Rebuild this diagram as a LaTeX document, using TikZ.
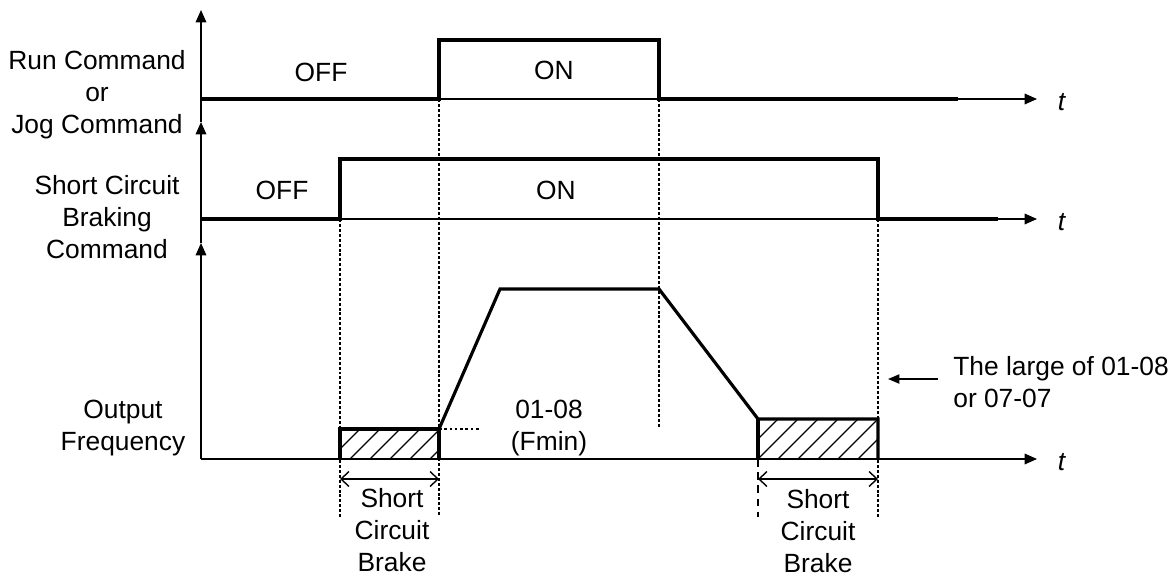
\documentclass[tikz,border=0pt]{standalone}
\usepackage{fontspec}
\setmainfont{Liberation Sans}
\usetikzlibrary{arrows.meta}

\begin{document}
\begin{tikzpicture}[x=0.02cm,y=-0.02cm,
  axis/.style={line width=0.9pt,-{Triangle[length=7pt,width=6pt]}},
  sig/.style={line width=1.8pt,line join=miter},
  guide/.style={line width=0.6pt,dash pattern=on 1.7pt off 1.1pt},
  dim/.style={line width=0.8pt,{Straight Barb[length=4.5pt,width=8.5pt]}-{Straight Barb[length=4.5pt,width=8.5pt]}},
  lbl/.style={font=\fontsize{15}{18.2}\selectfont,align=center,inner sep=0pt}]
  \useasboundingbox (0,0) rectangle (1176,578);
  \draw[axis] (201,459) -- (201,243);
  \draw[axis] (201,243) -- (201,122);
  \draw[axis] (201,122) -- (201,10);
  \draw[axis] (201,99) -- (1037,99);
  \draw[axis] (201,219) -- (1037,219);
  \draw[axis] (201,459) -- (1037,459);
  \draw[sig] (201,99) -- (439,99) -- (439,40) -- (659,40) -- (659,99) -- (958,99);
  \draw[sig] (201,219) -- (340,219) -- (340,159) -- (878,159) -- (878,219) -- (998,219);
  \begin{scope}
    \clip (340,429) rectangle (439,459);
    \foreach \i in {310,330,...,450} \draw[line width=0.7pt] (\i,459) -- ++(30,-30);
  \end{scope}
  \begin{scope}
    \clip (758,419) rectangle (878,459);
    \foreach \i in {718,738,...,890} \draw[line width=0.7pt] (\i,459) -- ++(40,-40);
  \end{scope}
  \draw[sig] (340,459) -- (340,429) -- (439,429) -- (439,459);
  \draw[sig] (439,429) -- (500,289) -- (659,289) -- (758,419) -- (878,419) -- (878,459);
  \draw[sig] (758,419) -- (758,459);
  \draw[line width=0.8pt,dash pattern=on 1.5pt off 1.5pt] (439,429) -- (480,429);
  \draw[guide] (340,219) -- (340,517);
  \draw[guide] (439,99) -- (439,517);
  \draw[guide] (659,99) -- (659,428);
  \draw[guide] (878,219) -- (878,517);
  \draw[line width=0.6pt,dash pattern=on 4.5pt off 3pt] (758,459) -- (758,517);
  \draw[dim] (340,479) -- (439,479);
  \draw[dim] (758,479) -- (878,479);
  \node[lbl] (run) at (97,95) {Run Command\\or\\Jog Command};
  \node[lbl] (brk) at (107,217) {Short Circuit\\Braking\\Command};
  \node[lbl] (out) at (123,428) {Output\\Frequency};
  \node[lbl] (off1) at (321,72) {OFF};
  \node[lbl] (on1) at (554,70) {ON};
  \node[lbl] (off2) at (282,190) {OFF};
  \node[lbl] (on2) at (556,190) {ON};
  \node[lbl] (t1) at (1062,102) {\textit{t}};
  \node[lbl] (t2) at (1062,222) {\textit{t}};
  \node[lbl] (t3) at (1062,462) {\textit{t}};
  \node[lbl] (fmin) at (549,428) {01-08\\(Fmin)};
  \node[lbl] (scb1) at (392,530) {Short\\Circuit\\Brake};
  \node[lbl] (scb2) at (818,531) {Short\\Circuit\\Brake};
  \node[lbl,anchor=west,align=left] (large) at (953,382) {The large of 01-08\\or 07-07};
  \coordinate (ptrA) at (938,379);
  \coordinate (ptrB) at (888,379);
  \draw[line width=1pt,-{Triangle[length=6.5pt,width=5.2pt]}] (ptrA) -- (ptrB);
\end{tikzpicture}
\end{document}
